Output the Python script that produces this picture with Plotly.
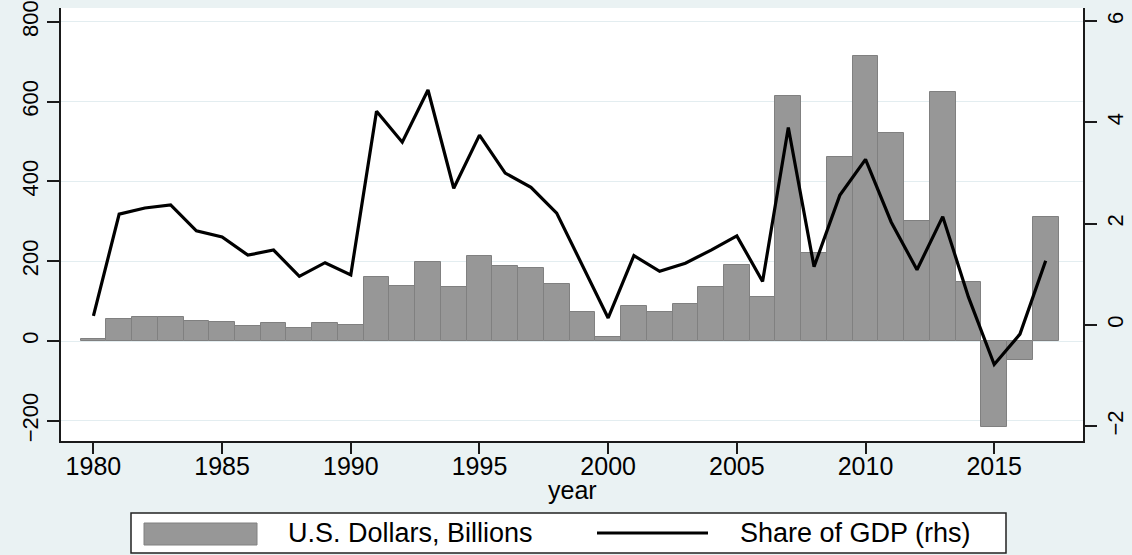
import plotly.graph_objects as go

# ---- data -------------------------------------------------------------
years = list(range(1980, 2018))
usd_billions = [4, 54, 60, 60, 49, 47, 38, 44, 32, 44, 40,
                161, 139, 197, 135, 214, 188, 183, 142, 73, 11,
                88, 73, 93, 135, 190, 110, 614, 220, 462, 714,
                522, 301, 625, 149, -215, -48, 310]
share_gdp = [0.18, 2.19, 2.31, 2.37, 1.86, 1.74, 1.38, 1.48, 0.96, 1.23, 0.99,
             4.22, 3.61, 4.64, 2.70, 3.75, 3.00, 2.72, 2.21, 1.18, 0.14,
             1.37, 1.06, 1.22, 1.48, 1.76, 0.86, 3.90, 1.15, 2.56, 3.27,
             2.03, 1.09, 2.14, 0.55, -0.78, -0.18, 1.27]
x_ticks = [1980, 1985, 1990, 1995, 2000, 2005, 2010, 2015]
y_ticks = [-200, 0, 200, 400, 600, 800]
y2_ticks = [-2, 0, 2, 4, 6]
legend_labels = ["U.S. Dollars, Billions", "Share of GDP (rhs)"]
x_title = "year"

# ---- layout geometry ---------------------------------------------------
W, H = 1132, 555
L, R, T, B = 61, 49, 8, 114
PW, PH = W - L - R, H - T - B

def px(xp):
    return (xp - L) / PW

def py(yp):
    return (H - B - yp) / PH

FONT = "Liberation Sans, Arial, sans-serif"
BG = "#EAF2F3"
AXC = "#1a1a1a"
BAR_FILL = "#979797"
BAR_LINE = "#808080"

fig = go.Figure()
fig.add_trace(go.Bar(
    x=years, y=usd_billions, name=legend_labels[0], width=1.0,
    marker=dict(color=BAR_FILL, line=dict(color=BAR_LINE, width=1)),
    showlegend=False,
))
fig.add_trace(go.Scatter(
    x=years, y=share_gdp, name=legend_labels[1], yaxis="y2",
    mode="lines", line=dict(color="black", width=3.2),
    showlegend=False,
))

fig.update_layout(
    width=W, height=H,
    margin=dict(l=L, r=R, t=T, b=B, pad=0, autoexpand=False),
    paper_bgcolor=BG, plot_bgcolor="white",
    font=dict(family=FONT, color="black"),
    bargap=0,
    xaxis=dict(
        range=[1978.74, 2018.45], tickvals=x_ticks,
        ticks="outside", ticklen=11, tickwidth=1.5, tickcolor=AXC,
        showline=True, linecolor=AXC, linewidth=1.5,
        showgrid=False, zeroline=False, automargin=False,
        tickfont=dict(size=25, family=FONT),
        ticklabelstandoff=-9,
    ),
    yaxis=dict(
        range=[-250.6, 834.6], tickvals=y_ticks,
        ticks="outside", ticklen=12, tickwidth=1.5, tickcolor=AXC,
        showline=True, linecolor=AXC, linewidth=1.5,
        showgrid=True, gridcolor="#E3EDF0", gridwidth=1,
        zeroline=False, tickangle=-90, automargin=False,
        tickfont=dict(size=22, family=FONT),
    ),
    yaxis2=dict(
        range=[-2.29, 6.259], tickvals=y2_ticks,
        overlaying="y", side="right",
        ticks="outside", ticklen=12, tickwidth=1.5, tickcolor=AXC,
        showline=True, linecolor=AXC, linewidth=1.5,
        showgrid=False, zeroline=False, tickangle=-90, automargin=False,
        tickfont=dict(size=22, family=FONT),
    ),
)

# ---- axis title and legend drawn at the bottom (Stata style) ----------
shapes = [
    dict(type="rect", xref="paper", yref="paper",
         x0=px(131), x1=px(1006), y0=py(553), y1=py(513),
         line=dict(color="#222222", width=1.5), fillcolor="white", layer="above"),
    dict(type="rect", xref="paper", yref="paper",
         x0=px(144), x1=px(257), y0=py(545), y1=py(523),
         line=dict(color=BAR_LINE, width=1), fillcolor=BAR_FILL, layer="above"),
    dict(type="line", xref="paper", yref="paper",
         x0=px(597), x1=px(708), y0=py(533), y1=py(533),
         line=dict(color="black", width=3.2), layer="above"),
]
annotations = [
    dict(text=x_title, xref="paper", yref="paper",
         x=0.5, y=py(490), xanchor="center", yanchor="middle",
         showarrow=False, font=dict(size=25, family=FONT, color="black")),
    dict(text=legend_labels[0], xref="paper", yref="paper",
         x=px(410), y=py(533), xanchor="center", yanchor="middle",
         showarrow=False, font=dict(size=27, family=FONT, color="black")),
    dict(text=legend_labels[1], xref="paper", yref="paper",
         x=px(855), y=py(533), xanchor="center", yanchor="middle",
         showarrow=False, font=dict(size=27, family=FONT, color="black")),
]
fig.update_layout(shapes=shapes, annotations=annotations)

post = ("document.body.style.margin='0';"
        "document.body.style.overflow='hidden';"
        "document.body.style.background='" + BG + "';")
fig.write_html("out.html", post_script=post,
               config={"displayModeBar": False})
